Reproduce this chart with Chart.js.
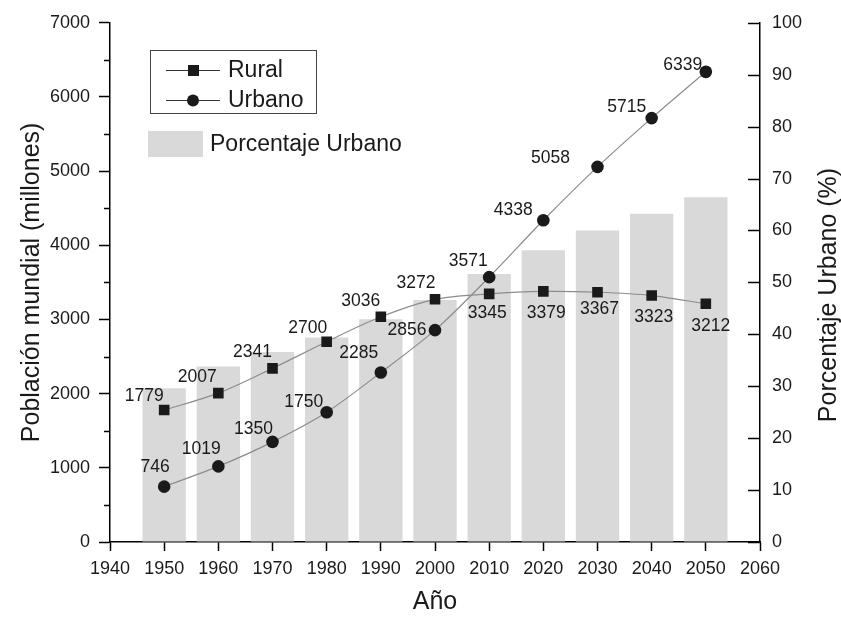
<!DOCTYPE html>
<html>
<head>
<meta charset="utf-8">
<script src="https://cdn.jsdelivr.net/npm/chart.js@4"></script>
<style>
  body { margin: 0; background: #fff; }
  #wrap { width: 841px; height: 618px; }
</style>
</head>
<body>
<div id="wrap"><canvas id="popChart" width="841" height="618"></canvas></div>
<script>
const years = [1950, 1960, 1970, 1980, 1990, 2000, 2010, 2020, 2030, 2040, 2050];
const rural = [1779, 2007, 2341, 2700, 3036, 3272, 3345, 3379, 3367, 3323, 3212];
const urbano = [746, 1019, 1350, 1750, 2285, 2856, 3571, 4338, 5058, 5715, 6339];
const pctUrbano = [29.6, 33.8, 36.6, 39.4, 42.9, 46.6, 51.6, 56.2, 60.0, 63.2, 66.4];

// where each value label sits, relative to its marker
const ruralLabelPos = [[-20, -14], [-21, -16], [-20, -16], [-19, -14], [-20, -16], [-19, -16], [-2, 19], [3, 22], [2, 17], [2, 22], [5, 22]];
const urbanoLabelPos = [[-9, -19], [-17, -17], [-19, -13], [-23, -10], [-22, -19], [-28, 0], [-21, -16], [-30, -10], [-47, -9], [-25, -11], [-23, -7]];

const FONT = "'Liberation Sans', Arial, sans-serif";
const INK = "#1a1a1a";

const toPoints = (vals) => years.map((y, i) => ({ x: y, y: vals[i] }));

const extras = {
  id: "extras",
  afterDatasetsDraw(chart) {
    const ctx = chart.ctx;
    ctx.save();
    ctx.font = "17.5px " + FONT;
    ctx.fillStyle = INK;
    ctx.textAlign = "center";
    ctx.textBaseline = "middle";
    [[0, rural, ruralLabelPos], [1, urbano, urbanoLabelPos]].forEach(([di, vals, pos]) => {
      chart.getDatasetMeta(di).data.forEach((pt, i) => {
        ctx.fillText(String(vals[i]), pt.x + pos[i][0], pt.y + pos[i][1]);
      });
    });
    ctx.restore();
  },
  afterDraw(chart) {
    const ctx = chart.ctx;
    const y = chart.scales.y;
    const y1 = chart.scales.y1;
    const area = chart.chartArea;
    ctx.save();
    ctx.strokeStyle = "#000";
    ctx.lineWidth = 1.5;
    // minor ticks on left axis
    for (let v = 500; v < 7000; v += 1000) {
      const py = Math.round(y.getPixelForValue(v)) + 0.5;
      ctx.beginPath();
      ctx.moveTo(area.left - 6, py);
      ctx.lineTo(area.left, py);
      ctx.stroke();
    }
    // inward ticks on right axis
    for (let v = 0; v <= 100; v += 10) {
      const py = Math.round(y1.getPixelForValue(v)) + 0.5;
      ctx.beginPath();
      ctx.moveTo(area.right - 12, py);
      ctx.lineTo(area.right, py);
      ctx.stroke();
    }

    // right axis title, read bottom to top
    ctx.save();
    ctx.translate(829, 295);
    ctx.rotate(-Math.PI / 2);
    ctx.font = "25px " + FONT;
    ctx.fillStyle = INK;
    ctx.textAlign = "center";
    ctx.textBaseline = "middle";
    ctx.fillText("Porcentaje Urbano (%)", 0, 0);
    ctx.restore();

    // legend
    ctx.lineWidth = 1;
    ctx.strokeStyle = "#444";
    ctx.strokeRect(150.5, 50.5, 166, 63);
    ctx.font = "23px " + FONT;
    ctx.textAlign = "left";
    ctx.textBaseline = "middle";
    ctx.fillStyle = INK;
    [[70, "rect", "Rural"], [100, "circle", "Urbano"]].forEach(([ly, style, name]) => {
      ctx.strokeStyle = "#333";
      ctx.beginPath();
      ctx.moveTo(166, ly + 0.5);
      ctx.lineTo(220, ly + 0.5);
      ctx.stroke();
      ctx.fillStyle = INK;
      if (style === "rect") {
        ctx.fillRect(188, ly - 5, 11, 11);
      } else {
        ctx.beginPath();
        ctx.arc(193, ly + 0.5, 6, 0, Math.PI * 2);
        ctx.fill();
      }
      ctx.fillText(name, 228, ly + 1);
    });
    ctx.fillStyle = "#d9d9d9";
    ctx.fillRect(148, 131, 55, 26);
    ctx.fillStyle = INK;
    ctx.fillText("Porcentaje Urbano", 210, 145);
    ctx.restore();
  }
};

const ctp = document.getElementById("popChart");

new Chart(ctp, {
  type: "line",
  data: {
    datasets: [
      {
        label: "Rural",
        data: toPoints(rural),
        yAxisID: "y",
        borderColor: "#8c8c8c",
        borderWidth: 1.2,
        tension: 0.3,
        pointStyle: "rect",
        pointRadius: 7.5,
        pointBackgroundColor: INK,
        pointBorderColor: INK,
        pointBorderWidth: 0,
        order: 1,
      },
      {
        label: "Urbano",
        data: toPoints(urbano),
        yAxisID: "y",
        borderColor: "#8c8c8c",
        borderWidth: 1.2,
        tension: 0.3,
        pointStyle: "circle",
        pointRadius: 6.3,
        pointBackgroundColor: INK,
        pointBorderColor: INK,
        pointBorderWidth: 0,
        order: 2,
      },
      {
        type: "bar",
        label: "Porcentaje Urbano",
        data: toPoints(pctUrbano),
        yAxisID: "y1",
        backgroundColor: "#d9d9d9",
        borderWidth: 0,
        barPercentage: 1,
        categoryPercentage: 0.8,
        order: 3,
      },
    ],
  },
  options: {
    responsive: false,
    animation: false,
    layout: { padding: { top: 18, left: 0, right: 0, bottom: 0 } },
    plugins: { legend: { display: false }, tooltip: { enabled: false } },
    scales: {
      x: {
        type: "linear",
        min: 1940,
        max: 2060,
        offset: false,
        afterFit: (s) => { s.height = 76; },
        ticks: {
          stepSize: 10,
          padding: 7,
          color: INK,
          font: { family: FONT, size: 18 },
          maxRotation: 0,
          callback: (v) => String(v),
        },
        grid: { drawOnChartArea: false, offset: false, tickLength: 9, color: "#000", tickWidth: 1.5 },
        border: { display: true, color: "#000", width: 1.5 },
        title: {
          display: true,
          text: "Año",
          color: INK,
          font: { family: FONT, size: 25, lineHeight: 1 },
          padding: { top: 0, bottom: 3.5 },
        },
      },
      y: {
        position: "left",
        min: 0,
        max: 7000,
        afterFit: (s) => { s.width = 110; },
        ticks: {
          stepSize: 1000,
          padding: 9,
          color: INK,
          font: { family: FONT, size: 18 },
          callback: (v) => String(v),
        },
        grid: { drawOnChartArea: false, tickLength: 11, color: "#000", tickWidth: 1.5 },
        border: { display: true, color: "#000", width: 1.5 },
        title: {
          display: true,
          text: "Población mundial (millones)",
          color: INK,
          font: { family: FONT, size: 25, lineHeight: 1 },
          padding: { top: 20, bottom: 0 },
        },
      },
      y1: {
        position: "right",
        min: 0,
        max: 100,
        afterFit: (s) => { s.width = 81; },
        ticks: {
          stepSize: 10,
          padding: 12,
          color: INK,
          font: { family: FONT, size: 18 },
          callback: (v) => String(v),
        },
        grid: { drawOnChartArea: false, drawTicks: false },
        border: { display: true, color: "#000", width: 1.5 },
        title: { display: false },
      },
    },
  },
  plugins: [extras],
});
</script>
</body>
</html>
